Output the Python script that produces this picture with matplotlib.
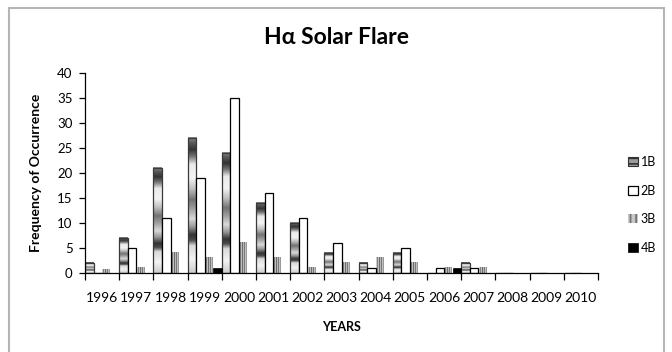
import numpy as np
import matplotlib
matplotlib.use('Agg')
import matplotlib.pyplot as plt
from matplotlib.patches import Rectangle, Patch

plt.rcParams['font.family'] = ['Lato', 'DejaVu Sans']
plt.rcParams['hatch.linewidth'] = 1.2

# H-alpha flare counts per importance class
years = [str(y) for y in range(1996, 2011)]
flare_1b = [2, 7, 21, 27, 24, 14, 10, 4, 2, 4, 0, 2, 0, 0, 0]
flare_2b = [0, 5, 11, 19, 35, 16, 11, 6, 1, 5, 1, 1, 0, 0, 0]
flare_3b = [0.6, 1, 4, 3, 6, 3, 1, 2, 3, 2, 1, 1, 0, 0, 0]
flare_4b = [0, 0, 0, 1, 0, 0, 0, 0, 0, 0, 1, 0, 0, 0, 0]
series_names = ['1B', '2B', '3B', '4B']

# gray textures for the patterned series
stops_t = [0.0, 0.04, 0.09, 0.14, 0.2, 0.3, 0.38, 0.46, 0.52, 0.6, 0.66, 0.72, 0.76, 0.8, 0.9, 1.0]
stops_v = [0.55, 0.35, 0.2, 0.45, 0.92, 0.95, 0.75, 0.45, 0.6, 0.85, 0.6, 0.2, 0.3, 0.85, 0.95, 0.8]
band_tex = np.interp(np.linspace(0, 1, 200), stops_t, stops_v).reshape(-1, 1)
stripe_tex = np.array([[0.8, 0.5, 0.75, 0.42, 0.72, 0.48, 0.75, 0.6]])

fig = plt.figure(figsize=(6.72, 3.52), dpi=100)
ax = fig.add_axes([85 / 672, 79 / 352, 513 / 672, 200.5 / 352])

x = np.arange(len(years))
w = 0.25

for i, v in enumerate(flare_1b):
    if v > 0:
        x0 = x[i] - 0.5
        ax.imshow(band_tex, cmap='gray', vmin=0, vmax=1, extent=[x0, x0 + w, 0, v],
                  aspect='auto', interpolation='bilinear', zorder=2)
ax.bar(x - 0.375, flare_1b, w, fill=False, edgecolor='#3a3a3a', linewidth=0.9, zorder=3)

ax.bar(x - 0.125, flare_2b, w, color='white', edgecolor='black', linewidth=0.9, zorder=3)

for i, v in enumerate(flare_3b):
    if v > 0:
        x0 = x[i]
        ax.imshow(stripe_tex, cmap='gray', vmin=0, vmax=1, extent=[x0 + 0.01, x0 + w - 0.01, 0, v],
                  aspect='auto', interpolation='nearest', zorder=2)

ax.bar(x + 0.375, flare_4b, w, color='black', edgecolor='black', linewidth=0.5, zorder=3)

ax.set_xlim(-0.5, len(years) - 0.5)
ax.set_ylim(0, 40)
ax.set_aspect('auto')

ax.spines['top'].set_visible(False)
ax.spines['right'].set_visible(False)
for s in ['left', 'bottom']:
    ax.spines[s].set_linewidth(0.9)
    ax.spines[s].set_zorder(4)

ax.set_yticks(range(0, 41, 5))
ax.tick_params(axis='y', direction='out', length=4, width=0.9, pad=5, labelsize=9.5)

# boundary ticks on the category axis, labels at the centres
ax.set_xticks(np.arange(-0.5, len(years), 1.0))
ax.set_xticklabels([])
ax.set_xticks(x, minor=True)
ax.set_xticklabels(years, minor=True)
ax.tick_params(axis='x', which='major', direction='out', length=5, width=0.9)
ax.tick_params(axis='x', which='minor', length=0, pad=14, labelsize=10)

ax.set_ylabel('Frequency of Occurrence', fontsize=10, fontweight='bold', labelpad=11)
ax.set_xlabel('YEARS', fontsize=9, fontweight='bold', labelpad=12)
fig.text(336 / 672, 1 - 38 / 352, 'Hα Solar Flare', ha='center', va='center',
         fontsize=16.5, fontweight='bold')

handles = [
    Patch(facecolor='#9a9a9a', edgecolor='#333333', hatch='---', linewidth=0.8),
    Patch(facecolor='white', edgecolor='black', linewidth=0.9),
    Patch(facecolor='#c8c8c8', edgecolor='#707070', hatch='|||', linewidth=0),
    Patch(facecolor='black', edgecolor='black', linewidth=0.5),
]
fig.legend(handles, series_names, loc='center left', bbox_to_anchor=(617 / 672, 1 - 205 / 352),
           frameon=False, fontsize=9, handlelength=0.75, handleheight=0.75,
           handletextpad=0.25, labelspacing=1.32)

# outer chart frame
fig.add_artist(Rectangle((8.5 / 672, -0.1), 655 / 672, 1.1 - 8 / 352, transform=fig.transFigure,
                         fill=False, edgecolor='#b5b5b5', linewidth=1.5))

fig.savefig('out.png', dpi=100)
